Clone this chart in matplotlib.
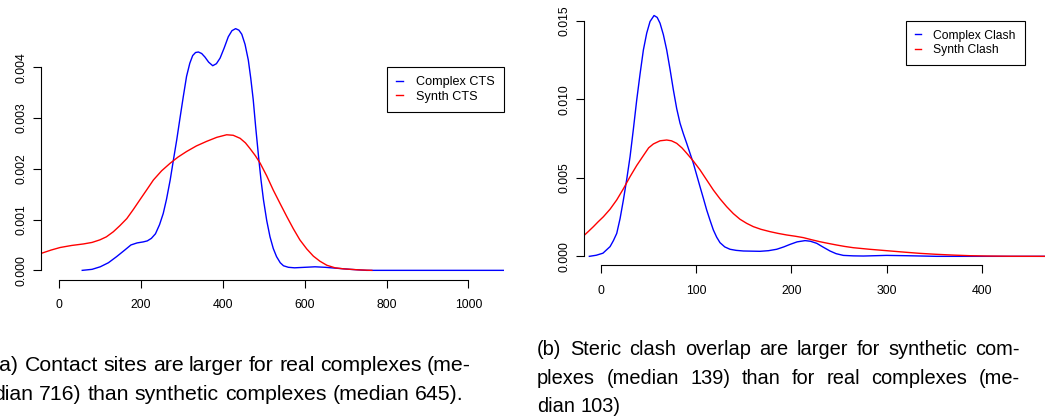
import matplotlib
matplotlib.use("Agg")
import matplotlib.pyplot as plt
from matplotlib.lines import Line2D

plt.rcParams['font.family'] = ['Liberation Sans', 'DejaVu Sans']

# (a) contact sites density
cts_complex_x = [56, 80, 100, 120, 140, 160, 175, 190, 205, 215, 225, 235, 245, 254, 262,
                 271, 279, 287, 295, 303, 311, 319, 326, 333, 340, 348, 356, 365, 375,
                 384, 393, 403, 413, 422, 431, 439, 446, 454, 462, 468, 474, 480, 487,
                 493, 499, 507, 515, 523, 531, 540, 548, 560, 575, 600, 625, 650, 680,
                 711, 751, 1090]
cts_complex_y = [0.0, 0.00002, 0.00007, 0.00015, 0.00027, 0.00040, 0.00050, 0.00054,
                 0.00056, 0.00058, 0.00063, 0.00072, 0.00090, 0.00112, 0.00140, 0.00178,
                 0.00218, 0.00257, 0.00300, 0.00342, 0.00382, 0.00408, 0.00423, 0.00429,
                 0.00430, 0.00427, 0.00420, 0.00410, 0.00403, 0.00407, 0.00418, 0.00438,
                 0.00460, 0.00472, 0.00476, 0.00473, 0.00465, 0.00445, 0.00414, 0.00378,
                 0.00336, 0.00282, 0.00224, 0.00178, 0.00139, 0.00098, 0.00066, 0.00043,
                 0.00027, 0.00015, 0.00009, 0.00006, 0.00005, 0.00006, 0.00007, 0.00006,
                 0.00004, 0.00002, 0.0, 0.0]
cts_synth_x = [-44, -20, 2, 30, 59, 80, 99, 115, 132, 148, 165, 181, 197, 214, 230, 250,
               271, 290, 311, 335, 360, 385, 409, 425, 442, 455, 466, 479, 491, 507, 523,
               540, 556, 572, 588, 605, 621, 637, 654, 674, 694, 730, 764]
cts_synth_y = [0.000335, 0.00040, 0.00045, 0.00049, 0.00052, 0.00055, 0.00060, 0.00066,
               0.00076, 0.00088, 0.00102, 0.00120, 0.00139, 0.00159, 0.00178, 0.00196,
               0.00211, 0.00223, 0.00234, 0.00245, 0.00254, 0.00262, 0.00267, 0.00266,
               0.00260, 0.00251, 0.00240, 0.00226, 0.00211, 0.00186, 0.00158, 0.00131,
               0.00106, 0.00082, 0.00060, 0.00042, 0.00028, 0.00018, 0.00010, 0.00005,
               0.00003, 0.00001, 0.0]

# (b) steric clash density
clash_complex_x = [-12.3, -5, 2, 9.5, 13, 16.5, 20, 23.5, 27, 30.5, 34, 37.5, 41, 44.5,
                   48, 51.5, 55.7, 59, 62, 65.5, 69, 72.5, 76, 79.5, 83, 86.5, 90, 97,
                   104, 107.5, 111, 114.5, 118, 121.5, 125, 130, 135.5, 142, 149.6, 167,
                   176, 184.6, 192, 198.6, 206, 214.4, 220, 226.6, 233, 240.6, 247,
                   254.6, 265, 275.7, 300, 321, 352.7, 470]
clash_complex_y = [0.0, 0.00007, 0.00020, 0.00062, 0.00100, 0.00146, 0.00240, 0.00359,
                   0.00490, 0.00634, 0.00810, 0.00995, 0.01160, 0.01313, 0.01420,
                   0.01494, 0.01532, 0.01520, 0.01483, 0.01410, 0.01313, 0.01190,
                   0.01059, 0.00940, 0.00847, 0.00780, 0.00719, 0.00592, 0.00443,
                   0.00370, 0.00295, 0.00230, 0.00168, 0.00122, 0.00087, 0.00060,
                   0.00045, 0.00038, 0.00034, 0.00032, 0.00036, 0.00045, 0.00060,
                   0.00076, 0.00092, 0.00100, 0.00096, 0.00083, 0.00060, 0.00034,
                   0.00017, 0.00006, 0.00003, 0.00002, 0.00006, 0.00004, 0.0, 0.0]
clash_synth_x = [-18, -13, -8, -3, 2.5, 9.5, 16.5, 23.5, 30.5, 37.5, 44.5, 50, 55, 62, 69,
                 74, 79.5, 85, 90, 97, 104, 111, 118, 125, 132, 139, 146, 153, 160, 168,
                 177.6, 186, 195, 204, 212.6, 221, 230, 239, 247.6, 256, 265, 282, 300,
                 318, 335, 352, 370, 388, 405, 430, 470]
clash_synth_y = [0.00132, 0.00160, 0.00189, 0.00220, 0.00252, 0.00300, 0.00359, 0.00430,
                 0.00507, 0.00578, 0.00641, 0.00690, 0.00715, 0.00735, 0.00740, 0.00735,
                 0.00719, 0.00690, 0.00656, 0.00606, 0.00550, 0.00486, 0.00422, 0.00366,
                 0.00316, 0.00272, 0.00236, 0.00210, 0.00189, 0.00172, 0.00157, 0.00146,
                 0.00136, 0.00128, 0.00119, 0.00106, 0.00093, 0.00082, 0.00072, 0.00063,
                 0.00055, 0.00045, 0.00036, 0.00027, 0.00019, 0.00013, 0.00008, 0.00004,
                 0.00002, 0.000005, 0.0]

cts_xticks = [0, 200, 400, 600, 800, 1000]
cts_yticks = [0.000, 0.001, 0.002, 0.003, 0.004]
clash_xticks = [0, 100, 200, 300, 400]
clash_yticks = [0.000, 0.005, 0.010, 0.015]

caption_a = [("(a) Contact sites are larger for real complexes (me-", True),
             ("dian 716) than synthetic complexes (median 645).", False)]
caption_b = [("(b) Steric clash overlap are larger for synthetic com-", True),
             ("plexes (median 139) than for real complexes (me-", True),
             ("dian 103)", False)]

W, H = 1045, 420
fig = plt.figure(figsize=(W / 100, H / 100), dpi=100)


def r_style(ax, xticks, yticks, fmt):
    for s in ['top', 'right']:
        ax.spines[s].set_visible(False)
    ax.spines['left'].set_bounds(yticks[0], yticks[-1])
    ax.spines['bottom'].set_bounds(xticks[0], xticks[-1])
    ax.spines['left'].set_linewidth(0.8)
    ax.spines['bottom'].set_linewidth(0.8)
    ax.set_xticks(xticks)
    ax.set_xticklabels([str(t) for t in xticks])
    ax.set_yticks(yticks)
    ax.set_yticklabels([fmt.format(t) for t in yticks], rotation=90, va='center')
    ax.tick_params(axis='both', direction='out', length=6, width=0.8, labelsize=8.8)
    ax.tick_params(axis='x', pad=8)
    ax.tick_params(axis='y', pad=4)
    ax.set_facecolor('none')


def legend(ax, labels, x_px, y_px, size):
    handles = [Line2D([], [], color='#0000ff', lw=1),
               Line2D([], [], color='#ff0000', lw=1)]
    lg = ax.legend(handles, labels, loc='upper left',
                   bbox_to_anchor=(x_px / W, 1 - y_px / H), bbox_transform=fig.transFigure,
                   fontsize=size, handlelength=0.55, handletextpad=1.0, borderpad=0.72,
                   labelspacing=0.2, fancybox=False, framealpha=1, borderaxespad=0)
    lg.get_frame().set_edgecolor('black')
    lg.get_frame().set_linewidth(0.8)


# left panel
ax1 = fig.add_axes([41 / W, 1 - 280 / H, (504 - 41) / W, (280 - 19) / H])
ax1.plot(cts_complex_x, cts_complex_y, color='#0000ff', lw=1)
ax1.plot(cts_synth_x, cts_synth_y, color='#ff0000', lw=1)
ax1.set_xlim(-44.8, 1087)
ax1.set_ylim(-0.00019, 0.00495)
r_style(ax1, cts_xticks, cts_yticks, "{:.3f}")
legend(ax1, ["Complex CTS", "Synth CTS"], 387, 67, 9.1)

# right panel
ax2 = fig.add_axes([584 / W, 1 - 265.3 / H, (W - 584) / W, (265.3 - 6.4) / H])
ax2.plot(clash_complex_x, clash_complex_y, color='#0000ff', lw=1)
ax2.plot(clash_synth_x, clash_synth_y, color='#ff0000', lw=1)
ax2.set_xlim(-17.9, 466.5)
ax2.set_ylim(-0.00057, 0.0159)
r_style(ax2, clash_xticks, clash_yticks, "{:.3f}")
legend(ax2, ["Complex Clash", "Synth Clash"], 906, 21, 8.7)

# captions, justified like the paper's text
fig.canvas.draw()
renderer = fig.canvas.get_renderer()


def text_width(s, size):
    t = fig.text(0, 0, s, fontsize=size)
    w = t.get_window_extent(renderer).width
    t.remove()
    return w


def caption(lines, x0, x1, y0, step, size):
    space = text_width('a a', size) - text_width('aa', size)
    for i, (line, justify) in enumerate(lines):
        y = 1 - (y0 + i * step) / H
        words = line.split(' ')
        widths = [text_width(w, size) for w in words]
        if justify and len(words) > 1:
            gap = (x1 - x0 - sum(widths)) / (len(words) - 1)
        else:
            gap = space
        x = x0
        for w, wd in zip(words, widths):
            fig.text(x / W, y, w, fontsize=size, va='baseline', ha='left')
            x += wd + gap


caption(caption_a, -7, 471, 371, 28.5, 15.3)
caption(caption_b, 537, 1020, 355, 28.5, 14.4)

fig.savefig("out.png", dpi=100)
